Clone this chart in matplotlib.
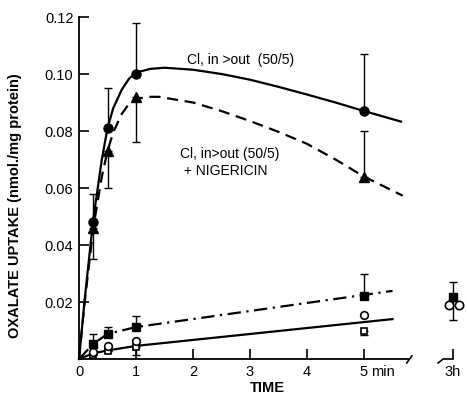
import matplotlib
matplotlib.use("Agg")
import matplotlib.pyplot as plt

plt.rcParams['font.family'] = ['Liberation Sans', 'DejaVu Sans']

# time points (min) and the 3 h point placed after the axis break
t = [0.25, 0.5, 1, 5]
t_3h = 6.56

# CI, in>out (50/5)
cl = [0.048, 0.081, 0.100, 0.087]
cl_up = [0.010, 0.014, 0.018, 0.020]
cl_curve_t = [0, 0.1, 0.25, 0.4, 0.5, 0.6, 0.75, 0.875, 1, 1.25, 1.5, 2, 2.5, 3, 3.5,
              4, 4.5, 5, 5.65]
cl_curve = [0, 0.021, 0.049, 0.070, 0.081, 0.088, 0.0945, 0.0983, 0.1005, 0.1018, 0.1022,
            0.1015, 0.1, 0.098, 0.0955, 0.0928, 0.0900, 0.0870, 0.0833]

# CI, in>out (50/5) + nigericin
nig = [0.046, 0.073, 0.092, 0.064]
nig_lo = [0.011, 0.013, 0.016, 0.0]
nig_up = [0.0, 0.0, 0.0, 0.016]
nig_curve_t = [0, 0.1, 0.25, 0.4, 0.5, 0.6, 0.75, 0.875, 1, 1.2, 1.4, 2, 2.5, 3, 3.5,
               4, 4.5, 5, 5.68]
nig_curve = [0, 0.020, 0.046, 0.064, 0.073, 0.0795, 0.0860, 0.0895, 0.0912, 0.0920, 0.0920,
             0.0900, 0.0870, 0.0835, 0.0797, 0.0755, 0.0700, 0.0640, 0.0573]

# filled squares
sq = [0.0053, 0.0088, 0.0112, 0.022]
sq_up = [0.0035, 0.0025, 0.004, 0.008]
sq_line_t = [0, 0.25, 0.5, 1, 5.5]
sq_line = [0, 0.0053, 0.0088, 0.0112, 0.0239]
sq_3h, sq_3h_up, sq_3h_lo = 0.0218, 0.0052, 0.008

# open circles / open squares
oc = [0.0025, 0.0045, 0.0062, 0.0155]
osq = [0.0015, 0.0028, 0.0042, 0.0098]
osq_lo = [0.0, 0.0, 0.0028, 0.0015]
low_line_t = [0, 0.25, 0.5, 1, 5.5]
low_line = [0, 0.002, 0.003, 0.0046, 0.014]
oc_3h_t = [6.49, 6.67]
oc_3h = [0.019, 0.019]

fig = plt.figure(figsize=(4.67, 4.0), dpi=100)
ax = fig.add_axes([0.1692, 0.1025, 0.8308, 0.8725])
ax.set_xlim(0, 6.807)
ax.set_ylim(0, 0.12246)

lw = 1.6
ax.plot(cl_curve_t, cl_curve, color='black', lw=lw, clip_on=False)
ax.plot(nig_curve_t, nig_curve, color='black', lw=lw, dashes=[5, 3], clip_on=False)
ax.plot(sq_line_t, sq_line, color='black', lw=lw, dashes=[6, 2.5, 1, 2.5], clip_on=False)
ax.plot(low_line_t, low_line, color='black', lw=lw, clip_on=False)

ekw = dict(fmt='none', ecolor='black', elinewidth=1.0, capsize=3, capthick=1.0)
ax.errorbar(t, cl, yerr=[[0] * 4, cl_up], **ekw)
ax.errorbar(t, nig, yerr=[nig_lo, nig_up], **ekw)
ax.errorbar(t, sq, yerr=[[0] * 4, sq_up], **ekw)
ax.errorbar(t, osq, yerr=[osq_lo, [0] * 4], **ekw)
ax.errorbar([t_3h], [sq_3h], yerr=[[sq_3h_lo], [sq_3h_up]], **ekw)

ax.plot(t, cl, 'o', color='black', ms=6.5, clip_on=False)
ax.plot(t, nig, '^', color='black', ms=6.5, clip_on=False)
ax.plot(t, sq, 's', color='black', ms=5.5, clip_on=False)
ax.plot([t_3h], [sq_3h], 's', color='black', ms=5.5, clip_on=False)
ax.plot(t, osq, 's', mfc='white', mec='black', mew=1.2, ms=5, clip_on=False)
ax.plot(t, oc, 'o', mfc='white', mec='black', mew=1.2, ms=5.5, clip_on=False)
ax.plot(oc_3h_t, oc_3h, 'o', mfc='white', mec='black', mew=1.2, ms=6, clip_on=False)

# axes styling
for s in ['top', 'right']:
    ax.spines[s].set_visible(False)
ax.spines['left'].set_linewidth(1.3)
ax.spines['bottom'].set_linewidth(1.3)
ax.spines['left'].set_bounds(0, 0.12)
ax.spines['bottom'].set_bounds(0, 5.77)

# axis break marks
ax.plot([5.75, 5.84], [-0.0014, 0.0011], color='black', lw=1.2, clip_on=False)
ax.plot([6.30, 6.39, 6.56], [-0.0014, 0.0, 0.0], color='black', lw=1.2, clip_on=False)

ax.set_xticks([0, 1, 2, 3, 4, 5, t_3h])
ax.set_xticklabels(['0', '1', '2', '3', '4', '5', '3h'])
ax.set_yticks([0.02, 0.04, 0.06, 0.08, 0.10, 0.12])
ax.set_yticklabels(['0.02', '0.04', '0.06', '0.08', '0.10', '0.12'])
ax.tick_params(direction='in', length=7, width=1.2, labelsize=10.5, pad=4)
ax.annotate('min', xy=(5.12, 0), xycoords=('data', 'axes fraction'),
            xytext=(0, -4), textcoords='offset points', fontsize=10.5,
            ha='left', va='top')

ax.set_xlabel('TIME', fontsize=10.5, fontweight='bold')
ax.xaxis.set_label_coords(0.485, -0.062)
ax.set_ylabel('OXALATE UPTAKE (nmol./mg protein)', fontsize=10.5, fontweight='bold')
ax.yaxis.set_label_coords(-0.147, 0.44)

ax.text(1.9, 0.1049, 'Cl, in >out  (50/5)', fontsize=10, ha='left', va='center')
ax.text(1.77, 0.0745, 'Cl, in>out (50/5)\n + NIGERICIN', fontsize=10, ha='left', va='top',
        linespacing=1.3)

fig.savefig('out.png', dpi=100)
